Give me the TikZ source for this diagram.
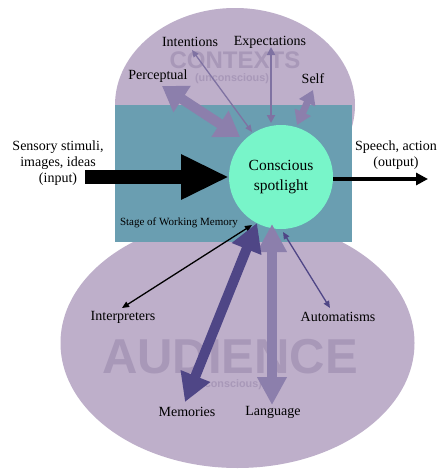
\documentclass[tikz,border=0pt]{standalone}
\usepackage{fontspec}
\setmainfont{Liberation Serif}
\newfontfamily\ghostfont{Liberation Sans}
\usetikzlibrary{arrows.meta}
\definecolor{lav}{HTML}{BEAFCA}
\definecolor{stagecol}{HTML}{6A9EB1}
\definecolor{spot}{HTML}{78F5C9}
\definecolor{ghost}{HTML}{A898B8}
\definecolor{midpurple}{HTML}{8C7FAC}
\definecolor{darkpurple}{HTML}{4F4686}
\definecolor{thinpurple}{HTML}{7F72A2}
\tikzset{
  lbl/.style={font=\fontsize{14}{16}\selectfont, align=center, inner sep=0pt},
  ghostbig/.style={font=\ghostfont\bfseries\fontsize{#1}{#1}\selectfont, text=ghost, inner sep=0pt},
  ghostsmall/.style={font=\ghostfont\bfseries\fontsize{10.8}{12}\selectfont, text=ghost, inner sep=0pt},
  fat/.style args={#1/#2/#3/#4}{draw=#1, line width=#2pt, {Triangle[width=#3pt,length=#4pt]}-{Triangle[width=#3pt,length=#4pt]}},
}
\begin{document}
\begin{tikzpicture}[x=1pt,y=-1pt]
\useasboundingbox (0,0) rectangle (440,471);
\fill[white] (0,0) rectangle (440,471);
% backgrounds
\fill[lav] (237.5,343) ellipse [x radius=177, y radius=125];
\fill[lav] (235,105) ellipse [x radius=120, y radius=97];
\fill[stagecol] (115,105) rectangle (352,242);
% ghost texts
\node[ghostbig=24] (ctx) at (235,60) {CONTEXTS};
\node[ghostsmall] (ctxu) at (232,79) {(unconscious)};
\node[ghostbig=49] (aud) at (230,357) {AUDIENCE};
\node[ghostsmall] (audu) at (225,385) {(unconscious)};
% spotlight
\node[circle, fill=spot, minimum size=104pt, inner sep=0pt, align=center,
      font=\fontsize{15.5}{20}\selectfont] (spot) at (281,177) {Conscious\\spotlight};
% labels
\node[lbl] (intent) at (190,42) {Intentions};
\node[lbl] (expect) at (270,42) {Expectations};
\node[lbl] (percept) at (158,76) {Perceptual};
\node[lbl] (self) at (313,79) {Self};
\node[lbl] (input) at (58,163) {Sensory stimuli,\\images, ideas\\(input)};
\node[lbl] (output) at (396,155) {Speech, action\\(output)};
\node[inner sep=0pt, font=\fontsize{11}{13}\selectfont] (stage) at (179,223) {Stage of Working Memory};
\node[lbl] (interp) at (123,317) {Interpreters};
\node[lbl] (autom) at (338,317) {Automatisms};
\node[lbl] (memo) at (187,412) {Memories};
\node[lbl] (lang) at (273,412) {Language};
% arrow end points
\coordinate (pA) at (162,86);   \coordinate (pB) at (240,137);
\coordinate (iA) at (192,50);   \coordinate (iB) at (252,132);
\coordinate (eA) at (271,47);   \coordinate (eB) at (271,123);
\coordinate (sA) at (313,90);   \coordinate (sB) at (297,125);
\coordinate (inA) at (85,177);  \coordinate (inB) at (229,177);
\coordinate (outA) at (333,179); \coordinate (outB) at (428,179);
\coordinate (tA) at (122,308);  \coordinate (tB) at (252,225);
\coordinate (mA) at (185,402);  \coordinate (mB) at (257,223);
\coordinate (lA) at (272,405);  \coordinate (lB) at (272,224);
\coordinate (aA) at (283,232);  \coordinate (aB) at (330,308);
% top arrows
\draw[fat=midpurple/10/30/24] (pA) -- (pB);
\draw[fat=thinpurple/1.3/6/7] (iA) -- (iB);
\draw[fat=thinpurple/2/8/8] (eA) -- (eB);
\draw[fat=midpurple/7/17/14] (sA) -- (sB);
% input / output
\draw[black, line width=14pt, -{Triangle[width=42pt,length=48pt]}] (inA) -- (inB);
\draw[black, line width=3.5pt, -{Triangle[width=12pt,length=12pt]}] (outA) -- (outB);
% bottom arrows
\draw[fat=black/1.3/6/7] (tA) -- (tB);
\draw[fat=midpurple/10/28/28] (lA) -- (lB);
\draw[fat=darkpurple/10/30/28] (mA) -- (mB);
\draw[fat=darkpurple/1.3/6/7] (aA) -- (aB);
\end{tikzpicture}
\end{document}
